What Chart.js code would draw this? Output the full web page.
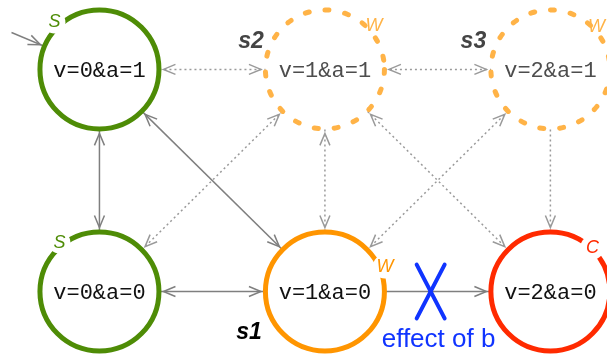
<!DOCTYPE html>
<html>
<head>
<meta charset="utf-8">
<script src="https://cdn.jsdelivr.net/npm/chart.js@4.4.1/dist/chart.umd.min.js"></script>
<style>
  html, body { margin: 0; padding: 0; background: #fff; }
  canvas { display: block; }
</style>
</head>
<body>
<canvas id="estados" width="607" height="356"></canvas>
<script>
// Estados: columna (v) y fila (a) en la grilla del diagrama.
const stateLabels = ["v=0&a=1", "v=1&a=1", "v=2&a=1", "v=0&a=0", "v=1&a=0", "v=2&a=0"];
const stateCol = [0, 1, 2, 0, 1, 2];
const stateRow = [1, 1, 1, 0, 0, 0];
const stateTags = ["S", "W", "W", "S", "W", "C"];
const stateNames = ["", "s2", "s3", "", "s1", ""];
const stateDashed = [false, true, true, false, false, false];

// Transiciones entre estados (indices).
const edgeFrom = [0, 1, 0, 0, 1, 1, 1, 2, 2, 3, 4];
const edgeTo = [1, 2, 3, 4, 3, 4, 5, 4, 5, 4, 5];
const edgeKind = ["dotted", "dotted", "solid", "solid", "dotted", "dotted", "dotted", "dotted", "dotted", "solid", "solid"];
const edgeHeads = ["both", "both", "both", "both", "both", "both", "both", "both", "end", "both", "end"];

// Flecha inicial hacia el primer estado.
const startPoint = [-0.39, 1.166];
const startState = 0;

// Cruz azul: "effect of b".
const blockedX = [1.407, 1.531];
const blockedY = [-0.121, 0.121];
const blockedText = "effect of b";

// Estilos
const GREEN = "#4e8c06";
const ORANGE = "#ff9500";
const LIGHT_ORANGE = "#ffb347";
const RED = "#ff2a00";
const BLUE = "#1034ff";
const stateColor = [GREEN, LIGHT_ORANGE, LIGHT_ORANGE, GREEN, ORANGE, RED];
const stateTextColor = ["#111", "#4d4d4d", "#4d4d4d", "#111", "#111", "#111"];
const nameColor = ["#000", "#444", "#444", "#000", "#000", "#000"];
const tagOffset = [[-45, -47], [49, -43], [46, -42], [-40, -49], [60, -25], [42, -44]];
const tagGap = [11, 0, 0, 11, 12, 12];
const nameOffset = [[0, 0], [-74, -28], [-77, -28], [0, 0], [-76, 41], [0, 0]];
const NODE_R = 59.5;
const NODE_W = 5;
const TIP_R = 64;

function statePoint(i) {
    return { x: stateCol[i], y: stateRow[i], i };
}

const datasets = [];

edgeFrom.forEach((from, k) => {
    const dotted = edgeKind[k] === "dotted";
    datasets.push({
        data: [statePoint(from), statePoint(edgeTo[k])],
        showLine: true,
        borderColor: dotted ? "#9a9a9a" : "#7f7f7f",
        borderWidth: 1.5,
        borderDash: dotted ? [2, 3] : [],
        pointRadius: 0,
        heads: edgeHeads[k],
        order: 3,
        clip: false
    });
});

datasets.push({
    data: [{ x: startPoint[0], y: startPoint[1] }, statePoint(startState)],
    showLine: true,
    borderColor: "#7f7f7f",
    borderWidth: 1.5,
    pointRadius: 0,
    heads: "end",
    order: 3,
    clip: false
});

[false, true].forEach((dashed) => {
    const idx = stateLabels.map((_, i) => i).filter((i) => stateDashed[i] === dashed);
    datasets.push({
        data: idx.map(statePoint),
        pointRadius: NODE_R,
        pointHoverRadius: NODE_R,
        pointBorderWidth: NODE_W,
        pointBorderColor: idx.map((i) => stateColor[i]),
        pointBackgroundColor: "#ffffff",
        dashed,
        isNode: true,
        order: 2,
        clip: false
    });
});

datasets.push({
    data: [{ x: blockedX[0], y: blockedY[1] }, { x: blockedX[1], y: blockedY[0] }],
    showLine: true, borderColor: BLUE, borderWidth: 4, borderCapStyle: "round",
    pointRadius: 0, order: 1, clip: false
});
datasets.push({
    data: [{ x: blockedX[1], y: blockedY[1] }, { x: blockedX[0], y: blockedY[0] }],
    showLine: true, borderColor: BLUE, borderWidth: 4, borderCapStyle: "round",
    pointRadius: 0, order: 1, clip: false, isBlock: true
});

const dashPlugin = {
    id: "dashedNodes",
    beforeDatasetDraw(chart, args) {
        if (chart.data.datasets[args.index].dashed) {
            chart.ctx.save();
            chart.ctx.setLineDash([4, 16]);
            chart.ctx.lineCap = "round";
        }
    },
    afterDatasetDraw(chart, args) {
        if (chart.data.datasets[args.index].dashed) chart.ctx.restore();
    }
};

function drawHead(ctx, tx, ty, ux, uy, color) {
    const L = 12, W = 5;
    const nx = -uy, ny = ux;
    ctx.save();
    ctx.setLineDash([]);
    ctx.strokeStyle = color;
    ctx.lineWidth = 1.5;
    ctx.beginPath();
    ctx.moveTo(tx - ux * L + nx * W, ty - uy * L + ny * W);
    ctx.lineTo(tx, ty);
    ctx.lineTo(tx - ux * L - nx * W, ty - uy * L - ny * W);
    ctx.stroke();
    ctx.restore();
}

const arrowPlugin = {
    id: "flechas",
    afterDatasetsDraw(chart) {
        const ctx = chart.ctx;
        chart.data.datasets.forEach((ds, i) => {
            if (!ds.heads) return;
            const [a, b] = chart.getDatasetMeta(i).data;
            const dx = b.x - a.x, dy = b.y - a.y, len = Math.hypot(dx, dy);
            const ux = dx / len, uy = dy / len;
            drawHead(ctx, b.x - ux * TIP_R, b.y - uy * TIP_R, ux, uy, ds.borderColor);
            if (ds.heads === "both") drawHead(ctx, a.x + ux * TIP_R, a.y + uy * TIP_R, -ux, -uy, ds.borderColor);
        });
    }
};

const labelPlugin = {
    id: "etiquetas",
    afterDatasetsDraw(chart) {
        const ctx = chart.ctx;
        ctx.save();
        chart.data.datasets.forEach((ds, d) => {
            const meta = chart.getDatasetMeta(d);
            if (ds.isNode) {
                meta.data.forEach((pt, j) => {
                    const i = ds.data[j].i;
                    ctx.textAlign = "center";
                    ctx.textBaseline = "middle";
                    ctx.fillStyle = stateTextColor[i];
                    ctx.font = "22px 'Liberation Mono', monospace";
                    ctx.fillText(stateLabels[i], pt.x, pt.y + 2);

                    const tx = pt.x + tagOffset[i][0], ty = pt.y + tagOffset[i][1];
                    if (tagGap[i]) {
                        ctx.fillStyle = "#fff";
                        ctx.beginPath();
                        ctx.arc(tx, ty, tagGap[i], 0, Math.PI * 2);
                        ctx.fill();
                    }
                    ctx.fillStyle = stateColor[i];
                    ctx.font = "italic 18px 'Liberation Sans', Arial, sans-serif";
                    ctx.fillText(stateTags[i], tx, ty);

                    if (stateNames[i]) {
                        ctx.fillStyle = nameColor[i];
                        ctx.font = "italic bold 23px 'Liberation Sans', Arial, sans-serif";
                        ctx.fillText(stateNames[i], pt.x + nameOffset[i][0], pt.y + nameOffset[i][1]);
                    }
                });
            }
            if (ds.isBlock) {
                const bottom = Math.max(meta.data[0].y, meta.data[1].y);
                const left = Math.min(meta.data[0].x, meta.data[1].x);
                ctx.fillStyle = BLUE;
                ctx.textAlign = "left";
                ctx.textBaseline = "alphabetic";
                ctx.font = "26px 'Liberation Sans', Arial, sans-serif";
                ctx.fillText(blockedText, left - 35, bottom + 29);
            }
        });
        ctx.restore();
    }
};

// El area del grafico queda reducida 64px por lado por el tamano de los puntos,
// asi que los limites de las escalas compensan ese margen.
new Chart(document.querySelector("#estados"), {
    type: "scatter",
    data: { datasets },
    options: {
        responsive: false,
        animation: false,
        devicePixelRatio: 1,
        events: [],
        layout: { padding: 0 },
        plugins: { legend: { display: false }, tooltip: { enabled: false } },
        scales: {
            x: { type: "linear", min: -0.155, max: 1.965, display: false },
            y: { type: "linear", min: 0, max: 1.022, display: false }
        }
    },
    plugins: [dashPlugin, arrowPlugin, labelPlugin]
});
</script>
</body>
</html>
